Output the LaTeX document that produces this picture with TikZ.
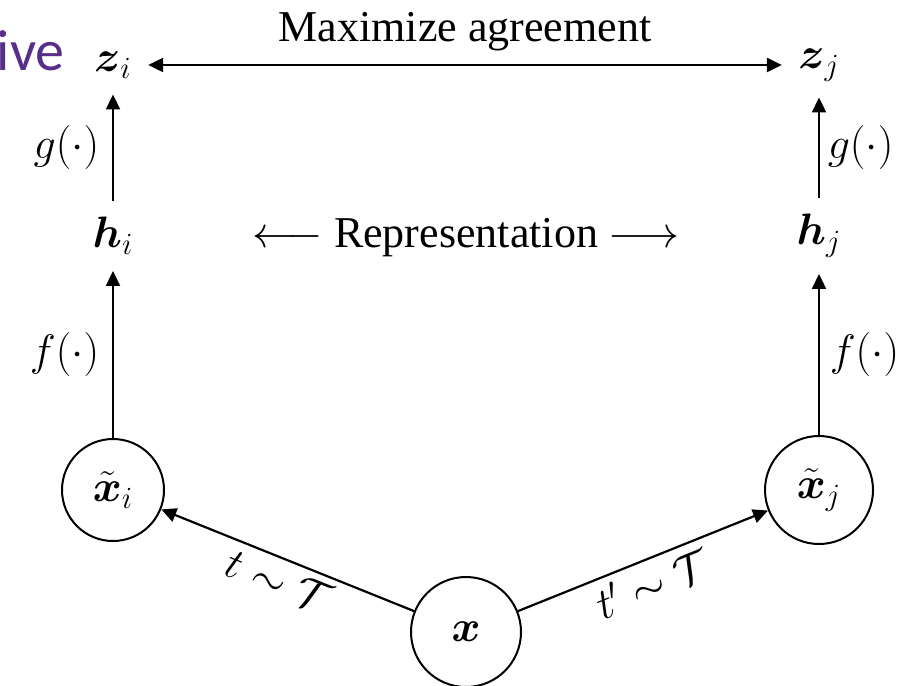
\RequirePackage{fix-cm}
\documentclass[tikz,border=0pt]{standalone}
\usepackage{amsmath}
\usepackage[no-math]{fontspec}
\setmainfont{Liberation Serif}
\newfontfamily\calib{Carlito}
\usetikzlibrary{arrows.meta}
\definecolor{ppl}{RGB}{88,47,136}
\tikzset{
  big/.style={font=\fontsize{22}{26}\selectfont},
  mlabel/.style={big, inner sep=8pt},
  circ/.style={circle, draw, line width=1pt, inner sep=0pt, big},
  arr/.style={line width=1.1pt, -{Triangle[length=7.5pt,width=7pt]}},
  dblarr/.style={line width=1.1pt, {Triangle[length=7.5pt,width=7pt]}-{Triangle[length=7.5pt,width=7pt]}},
  plainline/.style={line width=1.1pt}
}
\begin{document}
\begin{tikzpicture}[x=0.5pt, y=-0.5pt]
\useasboundingbox (0,0) rectangle (909,685);

\node[font=\calib\fontsize{29}{34}\selectfont, text=ppl, inner sep=0pt, anchor=base east] (ive) at (65,70) {ive};

\node[mlabel] (zi) at (113,65) {$\boldsymbol{z}_i$};
\node[mlabel] (zj) at (819,65) {$\boldsymbol{z}_j$};
\node[mlabel] (hi) at (113,236) {$\boldsymbol{h}_i$};
\node[mlabel] (hj) at (819,236) {$\boldsymbol{h}_j$};

\node[circ, minimum size=51pt] (xi) at (113,490) {$\tilde{\boldsymbol{x}}_i$};
\node[circ, minimum size=54pt] (xj) at (819,490) {$\tilde{\boldsymbol{x}}_j$};
\node[circ, minimum size=55pt] (x) at (466,632) {$\boldsymbol{x}$};

\node[big, anchor=base] (rep) at (466,247) {$\longleftarrow$ Representation $\longrightarrow$};

\draw[dblarr] (zi.east) -- (zi.east -| zj.west)
  node[midway, above=3pt, big] (agree) {Maximize agreement};

\draw[arr] (hi) -- (zi) node[midway, left=3pt, big] (gi) {$g(\cdot)$};
\draw[arr] (hj) -- (zj) node[midway, right=0.5pt, big] (gj) {$g(\cdot)$};
\draw[arr] (xi) -- (hi) node[midway, left=3pt, big] (fi) {$f(\cdot)$};
\draw[arr] (xj) -- (hj) node[midway, right=1.5pt, big] (fj) {$f(\cdot)$};

\draw[arr] (x) -- (xi) node[pos=0.5, sloped, below, big] (ti) {$t\sim\mathcal{T}$};
\draw[arr] (x) -- (xj) node[pos=0.5, sloped, below, big] (tj) {$t'\sim\mathcal{T}$};
\end{tikzpicture}
\end{document}
